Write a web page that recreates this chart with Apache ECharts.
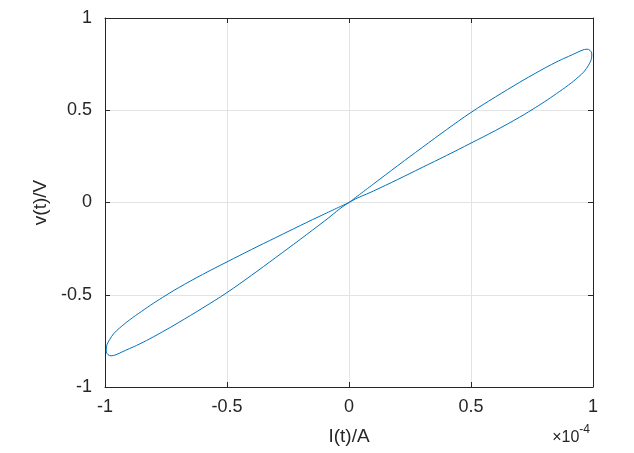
<!DOCTYPE html>
<html>
<head>
<meta charset="utf-8">
<script src="https://cdn.jsdelivr.net/npm/echarts@6/dist/echarts.min.js"></script>
<style>
html,body{margin:0;padding:0;background:#fff;}
#chart{width:634px;height:453px;}
</style>
</head>
<body>
<div id="chart"></div>
<script>
// Current in units of 1e-4 A, voltage in V, one full period of the pinched loop
var current = [
  0, 0.1, 0.2, 0.3, 0.4, 0.5, 0.6, 0.7, 0.75, 0.8, 0.86, 0.9, 0.93, 0.955, 0.975, 0.988, 0.995,
  0.994, 0.988, 0.981, 0.965, 0.94, 0.9, 0.85, 0.8, 0.75, 0.7, 0.6, 0.5, 0.4, 0.3, 0.2, 0.1, 0,
  -0.1, -0.2, -0.3, -0.4, -0.5, -0.6, -0.7, -0.75, -0.8, -0.86, -0.9, -0.93, -0.955, -0.975, -0.988, -0.995,
  -0.994, -0.988, -0.981, -0.965, -0.94, -0.9, -0.85, -0.8, -0.75, -0.7, -0.6, -0.5, -0.4, -0.3, -0.2, -0.1, 0
];
var voltage = [
  0, 0.1, 0.2, 0.298, 0.395, 0.488, 0.572, 0.652, 0.69, 0.727, 0.768, 0.792, 0.81, 0.825, 0.831, 0.824, 0.805,
  0.782, 0.76, 0.743, 0.712, 0.68, 0.637, 0.59, 0.545, 0.503, 0.463, 0.39, 0.322, 0.255, 0.19, 0.125, 0.062, 0,
  -0.1, -0.2, -0.298, -0.395, -0.488, -0.572, -0.652, -0.69, -0.727, -0.768, -0.792, -0.81, -0.825, -0.831, -0.824, -0.805,
  -0.782, -0.76, -0.743, -0.712, -0.68, -0.637, -0.59, -0.545, -0.503, -0.463, -0.39, -0.322, -0.255, -0.19, -0.125, -0.062, 0
];
var xTicks = [-1, -0.5, 0, 0.5, 1];
var yTicks = [-1, -0.5, 0, 0.5, 1];
var xTitle = 'I(t)/A';
var yTitle = 'v(t)/V';
var xExponent = '-4';

var loop = current.map(function (c, i) { return [c, voltage[i]]; });

var FONT = 'Liberation Sans, Arial, sans-serif';
var TXT = '#262626';
var axisBase = {
  min: xTicks[0], max: xTicks[xTicks.length - 1], interval: 0.5,
  axisLine: { show: true, onZero: false, lineStyle: { color: TXT, width: 1 } },
  axisTick: { show: true, inside: true, length: 5, lineStyle: { color: TXT, width: 1 } },
  splitLine: { show: false },
  axisLabel: { show: false }
};
function fmt(v) { return String(v); }

var chart = echarts.init(document.getElementById('chart'), null, { renderer: 'canvas' });
chart.setOption({
  animation: false,
  backgroundColor: '#ffffff',
  grid: { left: 105, right: 41, top: 18, bottom: 66, containLabel: false },
  xAxis: [
    Object.assign({}, axisBase, {
      type: 'value', position: 'bottom',
      splitLine: { show: true, lineStyle: { color: '#e3e3e3', width: 1 } },
      axisLabel: { show: true, color: TXT, fontFamily: FONT, fontSize: 18, margin: 11, formatter: fmt },
      name: xTitle, nameLocation: 'middle', nameGap: 40,
      nameTextStyle: { color: TXT, fontFamily: FONT, fontSize: 19 }
    }),
    Object.assign({}, axisBase, { type: 'value', position: 'top' })
  ],
  yAxis: [
    Object.assign({}, axisBase, {
      type: 'value', position: 'left',
      min: yTicks[0], max: yTicks[yTicks.length - 1],
      splitLine: { show: true, lineStyle: { color: '#e3e3e3', width: 1 } },
      axisLabel: { show: true, color: TXT, fontFamily: FONT, fontSize: 18, margin: 13, formatter: fmt },
      name: yTitle, nameLocation: 'middle', nameGap: 55, nameRotate: 90,
      nameTextStyle: { color: TXT, fontFamily: FONT, fontSize: 19 }
    }),
    Object.assign({}, axisBase, { type: 'value', position: 'right', min: yTicks[0], max: yTicks[yTicks.length - 1] })
  ],
  graphic: [{
    type: 'text', right: 44, top: 424,
    style: {
      text: '{a|×10}{b|' + xExponent + '}',
      rich: {
        a: { fontFamily: FONT, fontSize: 16, fill: TXT, padding: [6, 0, 0, 0] },
        b: { fontFamily: FONT, fontSize: 12, fill: TXT, verticalAlign: 'top' }
      }
    }
  }],
  series: [{
    type: 'line',
    xAxisIndex: 0, yAxisIndex: 0,
    data: loop,
    showSymbol: false,
    smooth: 0.4,
    lineStyle: { color: '#0072BD', width: 1 }
  }]
});
</script>
</body>
</html>
